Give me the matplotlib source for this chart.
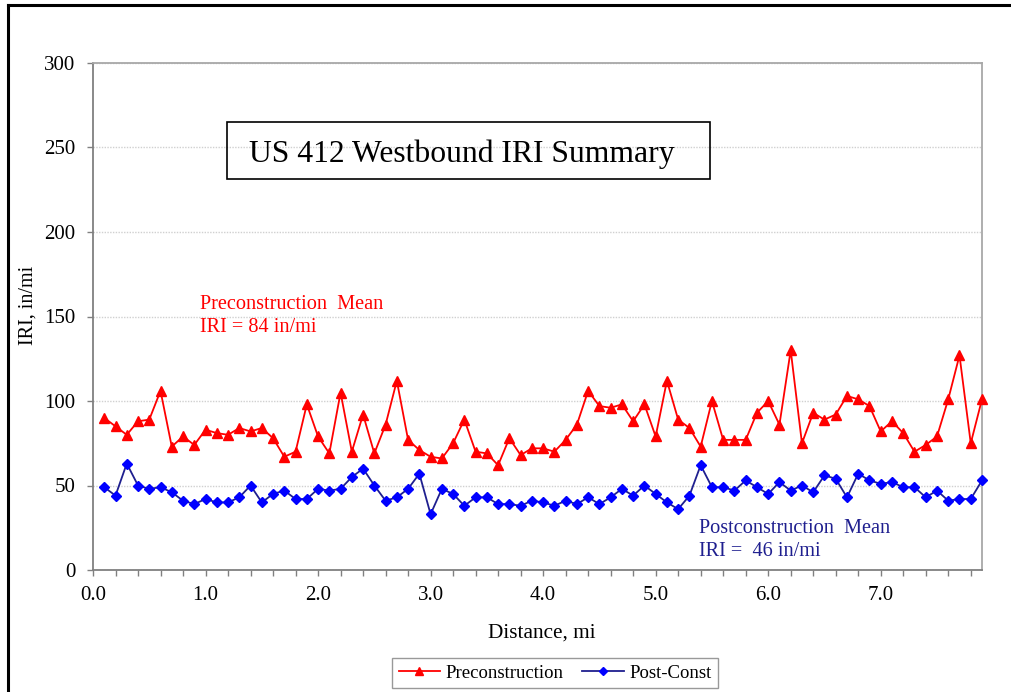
import matplotlib
matplotlib.use("Agg")
import matplotlib.pyplot as plt
from matplotlib.lines import Line2D
import numpy as np

plt.rcParams['font.family'] = ['Liberation Serif', 'DejaVu Serif']

distance = [round(0.1 * i, 1) for i in range(1, 80)]
pre = [90, 85, 80, 88, 89, 106, 73, 79, 74, 83, 81, 80, 84, 82, 84, 78, 67, 70, 98, 79,
       69, 105, 70, 92, 69, 86, 112, 77, 71, 67, 66, 75, 89, 70, 69, 62, 78, 68, 72, 72,
       70, 77, 86, 106, 97, 96, 98, 88, 98, 79, 112, 89, 84, 73, 100, 77, 77, 77, 93, 100,
       86, 130, 75, 93, 89, 92, 103, 101, 97, 82, 88, 81, 70, 74, 79, 101, 127, 75, 101]
post = [49, 44, 63, 50, 48, 49, 46, 41, 39, 42, 40, 40, 43, 50, 40, 45, 47, 42, 42, 48,
        47, 48, 55, 60, 50, 41, 43, 48, 57, 33, 48, 45, 38, 43, 43, 39, 39, 38, 41, 40,
        38, 41, 39, 43, 39, 43, 48, 44, 50, 45, 40, 36, 44, 62, 49, 49, 47, 53, 49, 45,
        52, 47, 50, 46, 56, 54, 43, 57, 53, 51, 52, 49, 49, 43, 47, 41, 42, 42, 53]
y_ticks = [0, 50, 100, 150, 200, 250, 300]
x_labels = ["0.0", "1.0", "2.0", "3.0", "4.0", "5.0", "6.0", "7.0"]

W, H = 1011, 692
fig = plt.figure(figsize=(W / 100, H / 100), dpi=100)
ax = fig.add_axes([93 / W, 1 - 570 / H, (982 - 93) / W, (570 - 63) / H])

red = '#ff0000'
navy = '#1f1f8f'
blue = '#0000ff'

ax.plot(distance, pre, color=red, lw=1.3, marker='^', ms=7, mfc=red, mec=red,
        label='Preconstruction', zorder=3, clip_on=False)
ax.plot(distance, post, color=navy, lw=1.3, marker='D', ms=4.8, mfc=blue, mec=blue,
        label='Post-Const', zorder=3, clip_on=False)

ax.set_xlim(0, 7.9)
ax.set_ylim(0, 300)
ax.set_yticks(y_ticks)
xt = np.arange(0, 7.81, 0.2)
ax.set_xticks(xt)
ax.set_xticklabels([x_labels[int(round(t))] if abs(t - round(t)) < 1e-6 else '' for t in xt])
ax.tick_params(axis='both', direction='out', length=4.5, width=1, color='#808080',
               labelsize=15)
ax.tick_params(axis='y', pad=8)
ax.tick_params(axis='x', pad=7)
ax.yaxis.grid(True, color='#d0d0d0', linestyle=(0, (1, 1)), lw=1)
ax.set_axisbelow(True)
for side in ['left', 'bottom']:
    ax.spines[side].set_color('#808080')
    ax.spines[side].set_linewidth(1.3)
for side in ['top', 'right']:
    ax.spines[side].set_color('#a8a8a8')
    ax.spines[side].set_linewidth(1.3)

fig.text(28 / W, 1 - 305 / H, 'IRI, in/mi', fontsize=14.5, rotation=90,
         ha='center', va='center')
fig.text(542 / W, 1 - 633 / H, 'Distance, mi', fontsize=15.3, ha='center', va='center')

fig.text(249 / W, 1 - 154 / H, 'US 412 Westbound IRI Summary', fontsize=22.8,
         ha='left', va='center')
fig.patches.append(plt.Rectangle((227 / W, 1 - 179 / H), (710 - 227) / W, (179 - 122) / H,
                                 transform=fig.transFigure, fill=False, ec='black', lw=1.2))

fig.text(200 / W, 1 - 316 / H, 'Preconstruction  Mean\nIRI = 84 in/mi', color=red,
         fontsize=14.6, ha='left', va='center', linespacing=1.25)
fig.text(699 / W, 1 - 540 / H, 'Postconstruction  Mean\nIRI =  46 in/mi', color=navy,
         fontsize=14.6, ha='left', va='center', linespacing=1.25)

leg = fig.legend(loc='upper center', bbox_to_anchor=(555 / W, 1 - 658 / H), ncol=2,
                 fontsize=13.5, frameon=True, fancybox=False, edgecolor='#808080',
                 handlelength=2.2, columnspacing=1.0, handletextpad=0.3,
                 borderpad=0.35, markerscale=0.85, borderaxespad=0)
leg.get_frame().set_linewidth(1.0)

fig.add_artist(Line2D([7.5 / W, 7.5 / W], [0, 1 - 5 / H], transform=fig.transFigure,
                      color='black', lw=2.2))
fig.add_artist(Line2D([7.5 / W, 1], [1 - 5 / H, 1 - 5 / H], transform=fig.transFigure,
                      color='black', lw=2.2))

fig.savefig('out.png', dpi=100)
